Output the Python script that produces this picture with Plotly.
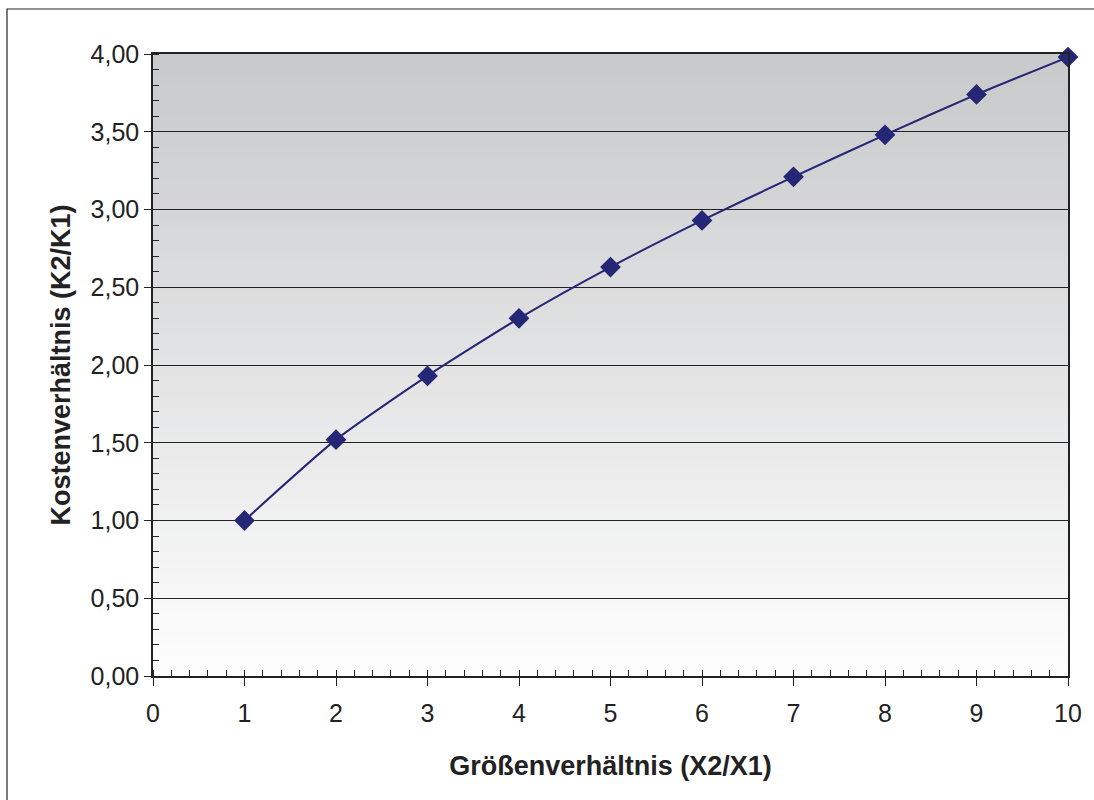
import plotly.graph_objects as go

# Größenverhältnis vs. Kostenverhältnis
groessen_verhaeltnis = [1, 2, 3, 4, 5, 6, 7, 8, 9, 10]
kosten_verhaeltnis = [1.00, 1.52, 1.93, 2.30, 2.63, 2.93, 3.21, 3.48, 3.74, 3.98]

y_ticks = [0, 0.5, 1.0, 1.5, 2.0, 2.5, 3.0, 3.5, 4.0]
x_ticks = [0, 1, 2, 3, 4, 5, 6, 7, 8, 9, 10]

fig = go.Figure()

fig.add_trace(go.Scatter(
    x=groessen_verhaeltnis,
    y=kosten_verhaeltnis,
    mode='lines+markers',
    line=dict(color='#262676', width=2, shape='spline', smoothing=0.6),
    marker=dict(symbol='diamond', size=16, color='#262676'),
    cliponaxis=False,
    showlegend=False
))

# gradient background (dark grey at top -> white at bottom), drawn as thin bands
n_bands = 60
top_rgb = (200, 201, 203)
bot_rgb = (253, 253, 253)
shapes = []
for i in range(n_bands):
    t = i / (n_bands - 1)
    r, g, b = [round(bot_rgb[k] + (top_rgb[k] - bot_rgb[k]) * t) for k in range(3)]
    shapes.append(dict(
        type='rect', xref='x', yref='y', layer='below',
        x0=0, x1=10, y0=4 * i / n_bands, y1=4 * (i + 1) / n_bands + 0.01,
        fillcolor=f'rgb({r},{g},{b})', line=dict(width=0)
    ))

# outer frame around the figure
shapes.append(dict(
    type='rect', xref='paper', yref='paper',
    x0=(7 - 153) / 915, x1=(1110 - 153) / 915,
    y0=(676 - 820) / 622, y1=(676 - 9) / 622,
    line=dict(color='#222222', width=1.2), fillcolor='rgba(0,0,0,0)'
))

fig.update_layout(
    width=1094,
    height=800,
    margin=dict(l=153, r=26, t=54, b=124),
    paper_bgcolor='white',
    plot_bgcolor='white',
    separators=',.',
    font=dict(family='Liberation Sans, Arial, sans-serif', size=25, color='#222222'),
    shapes=shapes,
    xaxis=dict(
        range=[0, 10],
        tickvals=x_ticks,
        ticks='outside', ticklen=8, tickcolor='#222222',
        ticklabelstandoff=6,
        showline=True, linecolor='#222222', linewidth=1.5, mirror=True,
        showgrid=False, zeroline=False,
        minor=dict(dtick=0.2, ticks='inside', ticklen=6, tickcolor='#222222', showgrid=False),
        title=dict(text='<b>Größenverhältnis (X2/X1)</b>', font=dict(size=27), standoff=30),
        tickfont=dict(size=25),
    ),
    yaxis=dict(
        range=[0, 4],
        tickvals=y_ticks,
        tickformat='.2f',
        ticks='outside', ticklen=7, tickcolor='#222222',
        showline=True, linecolor='#222222', linewidth=1.5, mirror=True,
        showgrid=True, gridcolor='#222222', gridwidth=1,
        zeroline=False,
        minor=dict(dtick=0.1, ticks='inside', ticklen=6, tickcolor='#222222', showgrid=False),
        title=dict(text='<b>Kostenverhältnis (K2/K1)</b>', font=dict(size=27), standoff=12),
        tickfont=dict(size=25),
    ),
)

fig.write_html("out.html", config={'displayModeBar': False},
               post_script="document.body.style.margin='0';")
